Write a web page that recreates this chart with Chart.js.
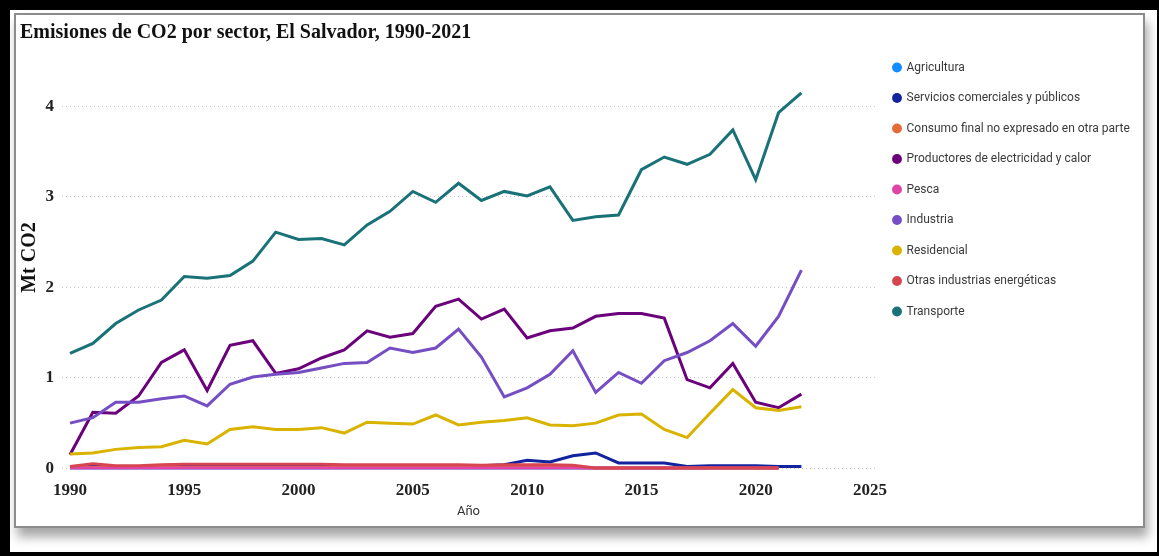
<!DOCTYPE html>
<html lang="es">
<head>
<meta charset="utf-8">
<title>Emisiones de CO2 por sector, El Salvador, 1990-2021</title>
<script src="https://cdn.jsdelivr.net/npm/chart.js@4.4.1/dist/chart.umd.min.js"></script>
<style>
    html, body { margin: 0; padding: 0; background: #000; }
    body { width: 1159px; height: 556px; position: relative; overflow: hidden; }
    .sheet { position: absolute; left: 10px; top: 10px; width: 1147px; height: 542px; background: #fff; }
    .card {
        position: absolute; left: 14px; top: 13px; width: 1131px; height: 515px;
        box-sizing: border-box; border: 2px solid #8c8c8c; background: #fff;
        box-shadow: 3px 9px 10px rgba(0, 0, 0, 0.35);
    }
    .chart-box { position: absolute; left: 0; top: 0; width: 1159px; height: 556px; }
</style>
</head>
<body>
<div class="sheet"></div>
<div class="card"></div>
<div class="chart-box"><canvas id="co2Chart"></canvas></div>

<script>
// Years on the x axis
const years = [1990, 1991, 1992, 1993, 1994, 1995, 1996, 1997, 1998, 1999,
               2000, 2001, 2002, 2003, 2004, 2005, 2006, 2007, 2008, 2009,
               2010, 2011, 2012, 2013, 2014, 2015, 2016, 2017, 2018, 2019,
               2020, 2021, 2022];

const xTicks = [1990, 1995, 2000, 2005, 2010, 2015, 2020, 2025];
const yTicks = [0, 1, 2, 3, 4];

// Mt CO2 per sector
const agricultura = [0.005, 0.005, 0.005, 0.005, 0.005, 0.005, 0.005, 0.005, 0.005, 0.005,
                     0.005, 0.005, 0.005, 0.005, 0.005, 0.005, 0.005, 0.005, 0.005, 0.005,
                     0.005, 0.005, 0.005, 0.005, 0.005, 0.005, 0.005, 0.005, 0.005, 0.005,
                     0.005, 0.005];
const servicios = [0.02, 0.02, 0.02, 0.02, 0.02, 0.02, 0.02, 0.02, 0.02, 0.02,
                   0.02, 0.02, 0.02, 0.02, 0.02, 0.03, 0.03, 0.03, 0.03, 0.04,
                   0.09, 0.07, 0.14, 0.17, 0.06, 0.06, 0.06, 0.02, 0.03, 0.03,
                   0.03, 0.02, 0.02];
const consumoFinal = [0.01, 0.01, 0.01, 0.01, 0.01, 0.01, 0.01, 0.01, 0.01, 0.01,
                      0.01, 0.01, 0.01, 0.01, 0.01, 0.01, 0.01, 0.01, 0.01, 0.01,
                      0.01, 0.01, 0.01, 0.005, 0.005, 0.005, 0.005, 0.005, 0.005, 0.005,
                      0.005, 0.005];
const productores = [0.15, 0.62, 0.61, 0.80, 1.17, 1.31, 0.86, 1.36, 1.41, 1.05,
                     1.10, 1.22, 1.31, 1.52, 1.45, 1.49, 1.79, 1.87, 1.65, 1.76,
                     1.44, 1.52, 1.55, 1.68, 1.71, 1.71, 1.66, 0.98, 0.89, 1.16,
                     0.73, 0.67, 0.82];
const pesca = [0.003, 0.003, 0.003, 0.003, 0.003, 0.003, 0.003, 0.003, 0.003, 0.003,
               0.003, 0.003, 0.003, 0.003, 0.003, 0.003, 0.003, 0.003, 0.003, 0.003,
               0.003, 0.003, 0.003, 0.003, 0.003, 0.003, 0.003, 0.003, 0.003, 0.003,
               0.003, 0.003];
const industria = [0.50, 0.56, 0.73, 0.73, 0.77, 0.80, 0.69, 0.93, 1.01, 1.04,
                   1.06, 1.11, 1.16, 1.17, 1.33, 1.28, 1.33, 1.54, 1.23, 0.79,
                   0.89, 1.04, 1.30, 0.84, 1.06, 0.94, 1.19, 1.28, 1.41, 1.60,
                   1.35, 1.68, 2.19];
const residencial = [0.16, 0.17, 0.21, 0.23, 0.24, 0.31, 0.27, 0.43, 0.46, 0.43,
                     0.43, 0.45, 0.39, 0.51, 0.50, 0.49, 0.59, 0.48, 0.51, 0.53,
                     0.56, 0.48, 0.47, 0.50, 0.59, 0.60, 0.43, 0.34, 0.61, 0.87,
                     0.67, 0.64, 0.68];
const otrasEnergeticas = [0.02, 0.05, 0.03, 0.03, 0.04, 0.045, 0.045, 0.045, 0.045, 0.045,
                          0.045, 0.045, 0.04, 0.04, 0.04, 0.04, 0.04, 0.04, 0.035, 0.04,
                          0.04, 0.04, 0.035, 0.005, 0.005, 0.005, 0.005, 0.005, 0.005, 0.005,
                          0.005, 0.005];
const transporte = [1.27, 1.38, 1.60, 1.75, 1.86, 2.12, 2.10, 2.13, 2.29, 2.61,
                    2.53, 2.54, 2.47, 2.69, 2.84, 3.06, 2.94, 3.15, 2.96, 3.06,
                    3.01, 3.11, 2.74, 2.78, 2.80, 3.30, 3.44, 3.36, 3.47, 3.74,
                    3.19, 3.93, 4.15];

const sectorNames = [
    'Agricultura',
    'Servicios comerciales y públicos',
    'Consumo final no expresado en otra parte',
    'Productores de electricidad y calor',
    'Pesca',
    'Industria',
    'Residencial',
    'Otras industrias energéticas',
    'Transporte'
];
const sectorValues = [agricultura, servicios, consumoFinal, productores, pesca,
                      industria, residencial, otrasEnergeticas, transporte];
const sectorColors = ['#118DFF', '#12239E', '#E66C37', '#6B007B', '#E044A7',
                      '#744EC2', '#D9B300', '#D64550', '#197278'];

const LEGEND_WIDTH = 264;

// Fix the legend column width so the plot ends where the legend starts
const legendWidthPlugin = {
    id: 'legendWidth',
    afterInit(chart) {
        const legend = chart.legend;
        if (!legend) return;
        const fit = legend.fit;
        legend.fit = function() {
            fit.call(this);
            this.width = LEGEND_WIDTH;
        };
    }
};

function buildDatasets() {
    return sectorNames.map((name, i) => ({
        label: name,
        data: sectorValues[i].map((v, j) => ({ x: years[j], y: v })),
        borderColor: sectorColors[i],
        backgroundColor: sectorColors[i],
        borderWidth: 3,
        pointRadius: 0,
        pointHoverRadius: 0,
        tension: 0,
        fill: false,
        // later series are painted on top, like the original
        order: -i
    }));
}

const serif = "'Liberation Serif', 'Times New Roman', serif";
const sans = "Roboto, 'Segoe UI', 'Noto Sans', sans-serif";

new Chart(document.getElementById('co2Chart'), {
    type: 'line',
    data: { datasets: buildDatasets() },
    plugins: [legendWidthPlugin],
    options: {
        responsive: true,
        maintainAspectRatio: false,
        animation: false,
        layout: {
            padding: { left: 20, right: 20, top: 10, bottom: 36 }
        },
        plugins: {
            title: {
                display: true,
                text: 'Emisiones de CO2 por sector, El Salvador, 1990-2021',
                align: 'start',
                color: '#111',
                font: { family: serif, size: 20, weight: 'bold', lineHeight: 1.2 },
                padding: { top: 11, bottom: -2 }
            },
            legend: {
                position: 'right',
                align: 'start',
                fullSize: false,
                labels: {
                    color: '#3a3a3a',
                    font: { family: sans, size: 12 },
                    usePointStyle: true,
                    pointStyle: 'circle',
                    boxWidth: 7,
                    boxHeight: 7,
                    padding: 18.5,
                    sort: (a, b) => a.datasetIndex - b.datasetIndex,
                    generateLabels(chart) {
                        const items = Chart.defaults.plugins.legend.labels.generateLabels(chart);
                        items.forEach(item => {
                            item.lineWidth = 0;
                            item.fillStyle = item.strokeStyle;
                        });
                        return items;
                    }
                }
            },
            tooltip: { enabled: false }
        },
        scales: {
            x: {
                type: 'linear',
                min: 1989.65,
                max: 2025.22,
                afterBuildTicks: axis => {
                    axis.ticks = xTicks.map(v => ({ value: v }));
                },
                ticks: {
                    color: '#222',
                    padding: 8,
                    maxRotation: 0,
                    font: { family: serif, size: 17, weight: 'bold', lineHeight: 1.2 },
                    callback: value => String(value)
                },
                grid: { display: false, drawTicks: false },
                border: { display: false },
                title: {
                    display: true,
                    text: 'Año',
                    color: '#333',
                    font: { family: sans, size: 13, lineHeight: 1.2 },
                    padding: { top: -4, bottom: 0 }
                }
            },
            y: {
                min: -0.04,
                max: 4.70,
                afterBuildTicks: axis => {
                    axis.ticks = yTicks.map(v => ({ value: v }));
                },
                ticks: {
                    color: '#222',
                    padding: 8,
                    font: { family: serif, size: 17, weight: 'bold' },
                    callback: value => String(value)
                },
                grid: {
                    color: '#c8c8c8',
                    lineWidth: 1,
                    drawTicks: false
                },
                border: { display: false, dash: [1, 3] },
                title: {
                    display: true,
                    text: 'Mt CO2',
                    color: '#111',
                    font: { family: serif, size: 20, weight: 'bold', lineHeight: 1 },
                    padding: { top: 0, bottom: -2.5 }
                }
            }
        }
    }
});
</script>
</body>
</html>
